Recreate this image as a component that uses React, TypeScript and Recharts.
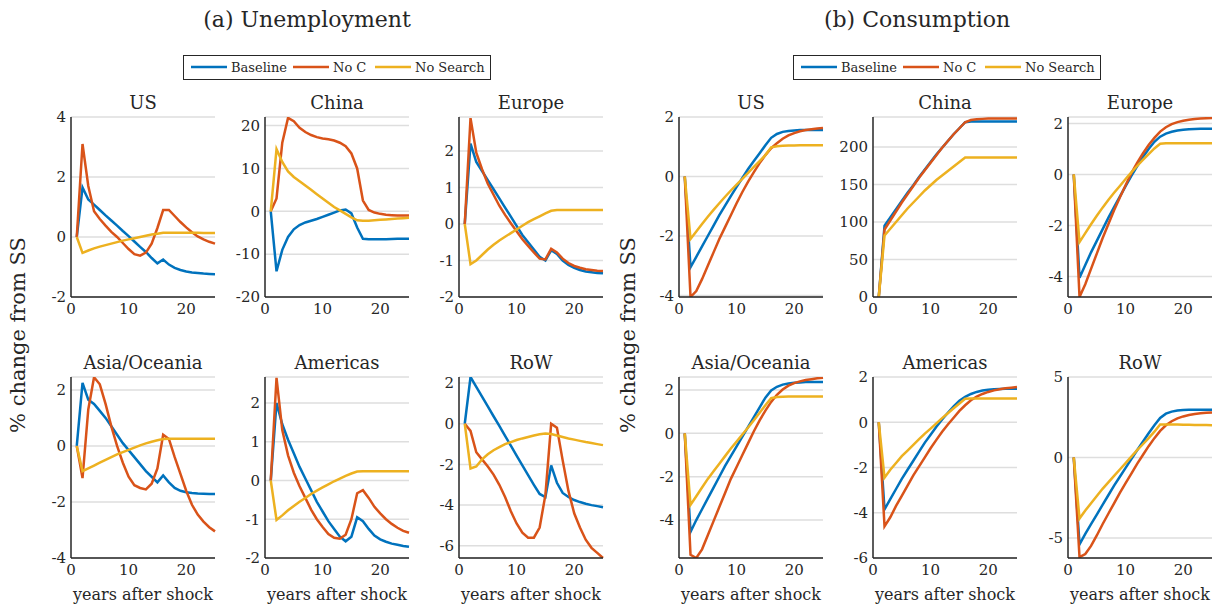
import React from 'react';
import { LineChart, Line, XAxis, YAxis, CartesianGrid } from 'recharts';

const FONT = "'DejaVu Serif', serif";
const AX = '#262626';
const BLUE = '#0072BD';
const RED = '#D95319';
const YELLOW = '#EDB120';

// years after shock
const years = [1, 2, 3, 4, 5, 6, 7, 8, 9, 10, 11, 12, 13, 14, 15, 16, 17, 18, 19, 20, 21, 22, 23, 24, 25];
const xTicks = [0, 10, 20];

// (a) Unemployment
const unUSBase = [0, 1.65, 1.25, 1.08, 0.9, 0.72, 0.55, 0.38, 0.2, 0.03, -0.15, -0.33, -0.5, -0.7, -0.88, -0.75, -0.92, -1.03, -1.1, -1.15, -1.18, -1.2, -1.22, -1.23, -1.24];
const unUSNoC = [0, 3.1, 1.7, 0.86, 0.6, 0.38, 0.17, 0.0, -0.2, -0.4, -0.57, -0.62, -0.52, -0.22, 0.3, 0.9, 0.9, 0.7, 0.5, 0.32, 0.16, 0.02, -0.08, -0.16, -0.22];
const unUSNoSearch = [0, -0.53, -0.45, -0.38, -0.32, -0.27, -0.22, -0.17, -0.12, -0.08, -0.04, 0.0, 0.04, 0.08, 0.11, 0.14, 0.14, 0.14, 0.14, 0.14, 0.14, 0.14, 0.13, 0.13, 0.13];

const unCNBase = [0, -14, -9, -6, -4.2, -3.2, -2.6, -2.2, -1.8, -1.3, -0.8, -0.3, 0.2, 0.4, -0.5, -3.8, -6.4, -6.5, -6.5, -6.5, -6.5, -6.45, -6.4, -6.4, -6.4];
const unCNNoC = [0, 3, 16, 21.8, 21, 19.5, 18.5, 17.8, 17.3, 17, 16.8, 16.5, 16, 15.2, 13.5, 10, 2.5, 0.3, -0.3, -0.6, -0.8, -0.9, -1.0, -1.0, -1.0];
const unCNNoSearch = [0, 14.5, 11.5, 9.3, 8, 7, 6, 5, 4, 3, 2, 1, 0.2, -0.6, -1.4, -2.1, -2.2, -2.2, -2.1, -2.0, -1.9, -1.8, -1.7, -1.6, -1.5];

const unEUBase = [0, 2.2, 1.7, 1.45, 1.2, 0.95, 0.7, 0.45, 0.2, -0.05, -0.3, -0.5, -0.7, -0.9, -1.0, -0.72, -0.82, -1.0, -1.12, -1.2, -1.26, -1.3, -1.32, -1.34, -1.35];
const unEUNoC = [0, 2.9, 1.95, 1.5, 1.1, 0.8, 0.5, 0.25, 0.02, -0.2, -0.42, -0.6, -0.78, -0.95, -0.97, -0.68, -0.78, -0.95, -1.07, -1.15, -1.2, -1.24, -1.26, -1.28, -1.29];
const unEUNoSearch = [0, -1.1, -1.0, -0.85, -0.7, -0.57, -0.45, -0.35, -0.25, -0.15, -0.05, 0.05, 0.13, 0.21, 0.29, 0.36, 0.38, 0.38, 0.38, 0.38, 0.38, 0.38, 0.38, 0.38, 0.38];

const unASBase = [0, 2.25, 1.65, 1.5, 1.25, 1.0, 0.7, 0.4, 0.1, -0.15, -0.4, -0.65, -0.9, -1.1, -1.3, -1.05, -1.3, -1.5, -1.6, -1.65, -1.68, -1.7, -1.71, -1.72, -1.72];
const unASNoC = [0, -1.15, 1.3, 2.45, 2.2, 1.5, 0.7, 0.0, -0.6, -1.1, -1.4, -1.5, -1.55, -1.35, -0.8, 0.4, 0.25, -0.4, -1.0, -1.6, -2.1, -2.45, -2.7, -2.9, -3.05];
const unASNoSearch = [0, -0.9, -0.8, -0.7, -0.6, -0.5, -0.4, -0.3, -0.22, -0.14, -0.06, 0.02, 0.09, 0.15, 0.2, 0.25, 0.26, 0.26, 0.26, 0.26, 0.26, 0.26, 0.26, 0.26, 0.26];

const unAMBase = [0, 2.0, 1.45, 1.05, 0.7, 0.35, 0.05, -0.25, -0.55, -0.8, -1.05, -1.25, -1.45, -1.57, -1.45, -0.95, -1.05, -1.25, -1.42, -1.52, -1.58, -1.63, -1.66, -1.69, -1.71];
const unAMNoC = [0, 2.65, 1.3, 0.65, 0.2, -0.15, -0.45, -0.75, -1.0, -1.2, -1.38, -1.48, -1.5, -1.4, -1.0, -0.33, -0.25, -0.45, -0.68, -0.85, -1.0, -1.12, -1.22, -1.3, -1.35];
const unAMNoSearch = [0, -1.02, -0.9, -0.77, -0.66, -0.55, -0.45, -0.35, -0.26, -0.18, -0.1, -0.02, 0.05, 0.12, 0.18, 0.23, 0.24, 0.24, 0.24, 0.24, 0.24, 0.24, 0.24, 0.24, 0.24];

const unRWBase = [0, 2.3, 1.82, 1.33, 0.85, 0.37, -0.1, -0.6, -1.08, -1.57, -2.05, -2.53, -3.0, -3.45, -3.6, -2.05, -2.9, -3.4, -3.6, -3.75, -3.85, -3.93, -4.0, -4.05, -4.1];
const unRWNoC = [0, -0.35, -1.4, -1.75, -2.1, -2.5, -3.0, -3.6, -4.3, -4.9, -5.35, -5.6, -5.6, -5.1, -3.5, 0.0, -0.2, -1.8, -3.3, -4.4, -5.1, -5.7, -6.1, -6.35, -6.6];
const unRWNoSearch = [0, -2.2, -2.1, -1.75, -1.5, -1.3, -1.15, -1.0, -0.9, -0.8, -0.72, -0.65, -0.58, -0.52, -0.48, -0.5, -0.58, -0.65, -0.72, -0.78, -0.84, -0.9, -0.95, -1.0, -1.05];

// (b) Consumption
const coUSBase = [0, -3.05, -2.7, -2.35, -2.0, -1.65, -1.3, -0.98, -0.66, -0.35, -0.05, 0.25, 0.52, 0.78, 1.05, 1.3, 1.43, 1.5, 1.53, 1.55, 1.56, 1.56, 1.56, 1.56, 1.56];
const coUSNoC = [0, -4.05, -3.85, -3.45, -3.0, -2.55, -2.1, -1.7, -1.3, -0.9, -0.52, -0.17, 0.15, 0.45, 0.72, 0.95, 1.12, 1.27, 1.38, 1.46, 1.52, 1.56, 1.59, 1.61, 1.63];
const coUSNoSearch = [0, -2.1, -1.85, -1.6, -1.35, -1.12, -0.9, -0.68, -0.47, -0.27, -0.08, 0.12, 0.32, 0.52, 0.72, 0.98, 1.02, 1.03, 1.04, 1.04, 1.05, 1.05, 1.05, 1.05, 1.05];

const coCNBase = [0, 95, 106, 117, 128, 139, 149, 160, 170, 180, 190, 199, 208, 217, 225, 233, 234, 234, 234, 234, 234, 234, 234, 234, 234];
const coCNNoC = [0, 90, 102, 114, 126, 137, 148, 159, 169, 179, 189, 199, 208, 217, 225, 233, 236, 237, 237.5, 238, 238, 238, 238, 238, 238];
const coCNNoSearch = [0, 82, 91, 100, 109, 118, 126, 134, 142, 149, 156, 162, 168, 174, 180, 186, 186, 186, 186, 186, 186, 186, 186, 186, 186];

const coEUBase = [0, -4.05, -3.55, -3.05, -2.6, -2.15, -1.7, -1.28, -0.87, -0.46, -0.06, 0.32, 0.68, 1.0, 1.28, 1.48, 1.6, 1.67, 1.72, 1.75, 1.77, 1.78, 1.79, 1.79, 1.79];
const coEUNoC = [0, -4.8, -4.3, -3.7, -3.1, -2.5, -1.95, -1.4, -0.9, -0.42, 0.05, 0.45, 0.82, 1.15, 1.43, 1.68, 1.85, 1.97, 2.05, 2.1, 2.14, 2.17, 2.19, 2.2, 2.21];
const coEUNoSearch = [0, -2.65, -2.3, -1.95, -1.62, -1.3, -1.0, -0.72, -0.45, -0.18, 0.08, 0.33, 0.57, 0.8, 1.02, 1.2, 1.22, 1.22, 1.22, 1.22, 1.22, 1.22, 1.22, 1.22, 1.22];

const coASBase = [0, -4.55, -4.0, -3.5, -3.0, -2.5, -2.0, -1.5, -1.05, -0.6, -0.15, 0.3, 0.75, 1.2, 1.65, 1.98, 2.15, 2.25, 2.3, 2.33, 2.35, 2.37, 2.37, 2.37, 2.37];
const coASNoC = [0, -5.6, -5.75, -5.35, -4.7, -4.05, -3.4, -2.75, -2.1, -1.55, -1.0, -0.45, 0.1, 0.6, 1.05, 1.45, 1.78, 2.02, 2.2, 2.32, 2.4, 2.46, 2.5, 2.54, 2.57];
const coASNoSearch = [0, -3.3, -2.9, -2.5, -2.1, -1.75, -1.4, -1.05, -0.7, -0.38, -0.05, 0.27, 0.6, 0.95, 1.3, 1.62, 1.68, 1.69, 1.7, 1.7, 1.7, 1.7, 1.7, 1.7, 1.7];

const coAMBase = [0, -3.85, -3.4, -2.95, -2.5, -2.1, -1.7, -1.3, -0.9, -0.55, -0.2, 0.12, 0.42, 0.7, 0.95, 1.12, 1.25, 1.34, 1.4, 1.44, 1.46, 1.47, 1.48, 1.48, 1.48];
const coAMNoC = [0, -4.6, -4.2, -3.7, -3.25, -2.8, -2.35, -1.95, -1.55, -1.15, -0.78, -0.42, -0.1, 0.2, 0.5, 0.75, 0.97, 1.13, 1.25, 1.34, 1.41, 1.46, 1.5, 1.53, 1.56];
const coAMNoSearch = [0, -2.45, -2.1, -1.8, -1.5, -1.25, -1.0, -0.75, -0.5, -0.28, -0.05, 0.18, 0.4, 0.62, 0.83, 1.04, 1.05, 1.05, 1.05, 1.05, 1.05, 1.05, 1.05, 1.05, 1.05];

const coRWBase = [0, -5.4, -4.75, -4.15, -3.55, -2.95, -2.35, -1.75, -1.2, -0.65, -0.1, 0.45, 0.98, 1.5, 2.0, 2.45, 2.72, 2.85, 2.92, 2.95, 2.97, 2.97, 2.97, 2.97, 2.97];
const coRWNoC = [0, -6.2, -6.0, -5.5, -4.85, -4.15, -3.5, -2.85, -2.2, -1.6, -1.0, -0.4, 0.15, 0.7, 1.2, 1.65, 2.0, 2.25, 2.43, 2.55, 2.64, 2.7, 2.75, 2.78, 2.8];
const coRWNoSearch = [0, -3.8, -3.3, -2.85, -2.4, -1.95, -1.55, -1.15, -0.75, -0.35, 0.05, 0.45, 0.82, 1.2, 1.6, 2.05, 2.05, 2.04, 2.04, 2.03, 2.03, 2.02, 2.02, 2.01, 2.0];

const PW = 144;
const LEFT_A = [71, 265, 459];
const LEFT_B = [679, 873, 1068];
const TOP = [117, 377];
const PH = [180, 181];

const panels = [
  { title: 'US', col: 0, row: 0, g: LEFT_A, dom: [-2, 4], ticks: [-2, 0, 2, 4], s: [unUSBase, unUSNoC, unUSNoSearch] },
  { title: 'China', col: 1, row: 0, g: LEFT_A, dom: [-20, 22], ticks: [-20, -10, 0, 10, 20], s: [unCNBase, unCNNoC, unCNNoSearch] },
  { title: 'Europe', col: 2, row: 0, g: LEFT_A, dom: [-2, 2.93], ticks: [-2, -1, 0, 1, 2], s: [unEUBase, unEUNoC, unEUNoSearch] },
  { title: 'Asia/Oceania', col: 0, row: 1, g: LEFT_A, dom: [-4, 2.46], ticks: [-4, -2, 0, 2], s: [unASBase, unASNoC, unASNoSearch] },
  { title: 'Americas', col: 1, row: 1, g: LEFT_A, dom: [-2, 2.67], ticks: [-2, -1, 0, 1, 2], s: [unAMBase, unAMNoC, unAMNoSearch] },
  { title: 'RoW', col: 2, row: 1, g: LEFT_A, dom: [-6.6, 2.3], ticks: [-6, -4, -2, 0, 2], s: [unRWBase, unRWNoC, unRWNoSearch] },
  { title: 'US', col: 0, row: 0, g: LEFT_B, dom: [-4.05, 2], ticks: [-4, -2, 0, 2], s: [coUSBase, coUSNoC, coUSNoSearch] },
  { title: 'China', col: 1, row: 0, g: LEFT_B, dom: [0, 240], ticks: [0, 50, 100, 150, 200], s: [coCNBase, coCNNoC, coCNNoSearch] },
  { title: 'Europe', col: 2, row: 0, g: LEFT_B, dom: [-4.8, 2.25], ticks: [-4, -2, 0, 2], s: [coEUBase, coEUNoC, coEUNoSearch] },
  { title: 'Asia/Oceania', col: 0, row: 1, g: LEFT_B, dom: [-5.75, 2.6], ticks: [-4, -2, 0, 2], s: [coASBase, coASNoC, coASNoSearch] },
  { title: 'Americas', col: 1, row: 1, g: LEFT_B, dom: [-6, 2], ticks: [-6, -4, -2, 0, 2], s: [coAMBase, coAMNoC, coAMNoSearch] },
  { title: 'RoW', col: 2, row: 1, g: LEFT_B, dom: [-6.25, 5], ticks: [-5, 0, 5], s: [coRWBase, coRWNoC, coRWNoSearch] },
];

function Txt({ x, y, size, rotate, children }: any) {
  return (
    <div
      style={{
        position: 'absolute', left: x, top: y, fontSize: size, whiteSpace: 'nowrap', lineHeight: 1,
        fontFamily: FONT,
        transform: `translate(-50%, -50%)${rotate ? ` rotate(${rotate}deg)` : ''}`,
      }}
    >
      {children}
    </div>
  );
}

function Panel({ title, col, row, g, dom, ticks, s }: any) {
  const px = g[col];
  const py = TOP[row];
  const ph = PH[row];
  const yw = 46;
  const mt = 12;
  const mr = 4;
  const xh = 30;
  const data = years.map((x, i) => ({ x, base: s[0][i], noC: s[1][i], noSearch: s[2][i] }));
  const tickStyle = { fontSize: 15, fill: AX, fontFamily: FONT };
  return (
    <>
      <Txt x={px + PW / 2} y={py - 14} size={18}>{title}</Txt>
      {row === 1 && <Txt x={px + PW / 2} y={595} size={16}>years after shock</Txt>}
      <div style={{ position: 'absolute', left: px - yw, top: py - mt }}>
        <LineChart
          width={yw + PW + mr} height={mt + ph + xh} data={data}
          margin={{ top: mt, right: mr, bottom: 0, left: 0 }}
          style={{ fontFamily: FONT }}
        >
          <CartesianGrid vertical={false} stroke="#dedede" strokeWidth={1.5} />
          <XAxis
            type="number" dataKey="x" domain={[0, 25]} ticks={xTicks} interval={0} height={xh}
            tickSize={0} tickMargin={6} tick={tickStyle} axisLine={{ stroke: AX, strokeWidth: 1.5 }}
          />
          <YAxis
            type="number" domain={dom} ticks={ticks} interval={0} width={yw} allowDataOverflow
            tickSize={0} tickMargin={5} tick={tickStyle} axisLine={{ stroke: AX, strokeWidth: 1.5 }}
          />
          <Line type="linear" dataKey="base" stroke={BLUE} strokeWidth={2.5} dot={false} isAnimationActive={false} />
          <Line type="linear" dataKey="noC" stroke={RED} strokeWidth={2.5} dot={false} isAnimationActive={false} />
          <Line type="linear" dataKey="noSearch" stroke={YELLOW} strokeWidth={2.5} dot={false} isAnimationActive={false} />
        </LineChart>
      </div>
    </>
  );
}

const legendItems = [
  { name: 'Baseline', color: BLUE, at: 7 },
  { name: 'No C', color: RED, at: 109 },
  { name: 'No Search', color: YELLOW, at: 191 },
];

function LegendBox({ left, top }: any) {
  return (
    <div
      style={{
        position: 'absolute', left, top, width: 308, height: 25, boxSizing: 'border-box',
        border: `1.5px solid ${AX}`, background: '#fff', fontSize: 13, fontFamily: FONT,
      }}
    >
      {legendItems.map((it) => (
        <div
          key={it.name}
          style={{ position: 'absolute', left: it.at, top: 0, height: 22, display: 'flex', alignItems: 'center', whiteSpace: 'nowrap' }}
        >
          <svg width={36} height={6} style={{ marginRight: 4 }}>
            <line x1={0} y1={3} x2={36} y2={3} stroke={it.color} strokeWidth={2.5} />
          </svg>
          <span>{it.name}</span>
        </div>
      ))}
    </div>
  );
}

export default function App() {
  return (
    <div
      style={{
        position: 'absolute', left: 0, top: 0, width: 1214, height: 604, background: '#fff',
        fontFamily: FONT, color: AX, overflow: 'hidden',
      }}
    >
      <Txt x={307} y={20} size={22}>(a) Unemployment</Txt>
      <Txt x={917} y={20} size={22}>(b) Consumption</Txt>
      <LegendBox left={183} top={55} />
      <LegendBox left={793} top={55} />
      <Txt x={18} y={335} size={21} rotate={-90}>% change from SS</Txt>
      <Txt x={628} y={335} size={21} rotate={-90}>% change from SS</Txt>
      {panels.map((p, i) => (
        <Panel key={i} {...p} />
      ))}
    </div>
  );
}
